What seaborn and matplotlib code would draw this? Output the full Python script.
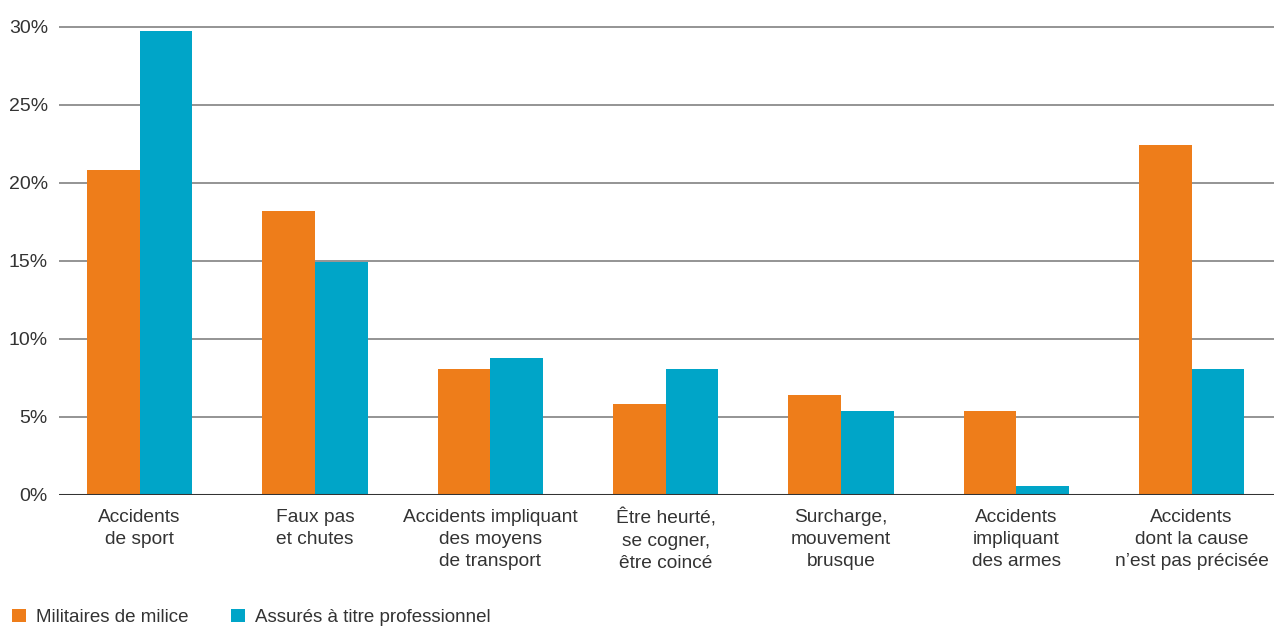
import numpy as np
import pandas as pd
import matplotlib
matplotlib.use('Agg')
import matplotlib.pyplot as plt
import seaborn as sns

# Data
categories = [
    'Accidents\nde sport',
    'Faux pas\net chutes',
    'Accidents impliquant\ndes moyens\nde transport',
    'Être heurté,\nse cogner,\nêtre coincé',
    'Surcharge,\nmouvement\nbrusque',
    'Accidents\nimpliquant\ndes armes',
    'Accidents\ndont la cause\nn’est pas précisée',
]
series_names = ['Militaires de milice', 'Assurés à titre professionnel']
milice = [20.8, 18.2, 8.1, 5.8, 6.4, 5.4, 22.4]
professionnels = [29.7, 14.9, 8.8, 8.1, 5.4, 0.6, 8.1]
y_ticks = [0, 5, 10, 15, 20, 25, 30]

ORANGE = '#EE7D1A'
BLUE = '#00A5C8'
TEXT = '#333333'

sns.set_style('white')
plt.rcParams['font.family'] = ['Liberation Sans', 'DejaVu Sans']

df = pd.DataFrame({
    'cat': categories * 2,
    'val': milice + professionnels,
    'serie': [series_names[0]] * len(categories) + [series_names[1]] * len(categories),
})

fig = plt.figure(figsize=(12.74, 6.30), dpi=100)
ax = fig.add_axes([0.0463, 0.2143, 0.9537, 0.768])

sns.barplot(data=df, x='cat', y='val', hue='serie', order=categories,
            hue_order=series_names, palette=[ORANGE, BLUE], width=0.6, gap=0,
            saturation=1, errorbar=None, ax=ax, zorder=3,
            linewidth=0, edgecolor='none')

ax.set_ylim(0, 31)
ax.set_xlim(-0.46, len(categories) - 0.53)
ax.set_yticks(y_ticks)
ax.set_yticklabels([f'{t}%' for t in y_ticks], fontsize=14, color=TEXT)
ax.yaxis.grid(True, color='#777777', linewidth=1.1, zorder=0)
ax.set_axisbelow(True)
ax.axhline(0, color='#333333', linewidth=2.2, zorder=4)
ax.tick_params(axis='y', length=0, pad=8)
ax.tick_params(axis='x', length=0, pad=10)
for lbl in ax.get_xticklabels():
    lbl.set_fontsize(13.8)
    lbl.set_color(TEXT)
    lbl.set_linespacing(1.4)
for s in ax.spines.values():
    s.set_visible(False)
ax.set_xlabel('')
ax.set_ylabel('')

handles, labels = ax.get_legend_handles_labels()
ax.legend_.remove()
fig.legend(handles, labels, loc='center left', bbox_to_anchor=(0.005, 0.02),
           ncol=2, frameon=False, fontsize=13.5, handlelength=0.75,
           handleheight=0.75, handletextpad=0.55, columnspacing=2.25,
           labelcolor=TEXT, borderaxespad=0, borderpad=0.3)

fig.savefig('out.png', dpi=100)
